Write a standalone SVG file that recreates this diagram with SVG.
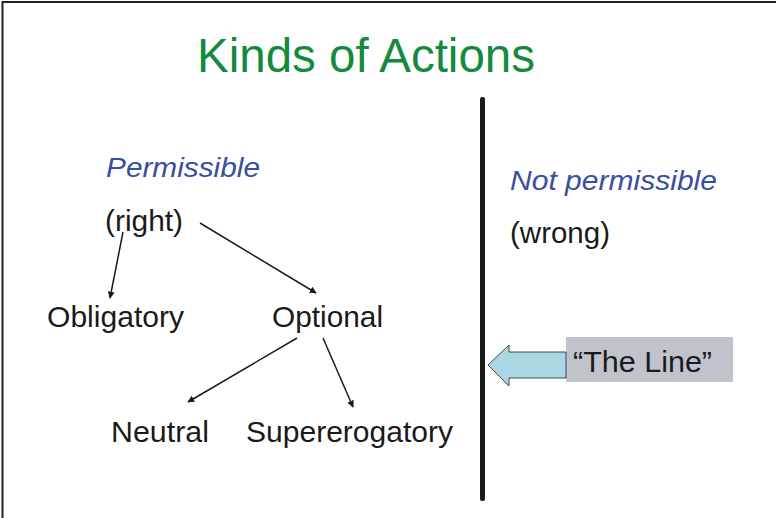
<svg xmlns="http://www.w3.org/2000/svg" width="776" height="518" viewBox="0 0 776 518">
<style>
text{font-family:"Liberation Sans",Arial,sans-serif;}
.lbl{font-size:29px;fill:#1a1a1a;}
.blue{font-size:28px;fill:#3a4ea0;font-style:italic;}
.conn{stroke:#1a1a1a;stroke-width:1.5;fill:none;marker-end:url(#ah);}
</style>
<defs>
<marker id="ah" viewBox="0 0 10 10" refX="9" refY="5" markerWidth="7" markerHeight="7" markerUnits="userSpaceOnUse" orient="auto">
<path d="M0,0 L10,5 L0,10 z" fill="#1a1a1a"/>
</marker>
</defs>
<rect x="0" y="0" width="776" height="518" fill="#ffffff"/>
<path d="M776,2 H2.5 V518" fill="none" stroke="#222" stroke-width="2"/>
<text x="197" y="72" font-size="48" fill="#138a3e" textLength="338" lengthAdjust="spacingAndGlyphs">Kinds of Actions</text>
<g id="permissible"><text class="blue" x="106" y="177" textLength="154" lengthAdjust="spacingAndGlyphs">Permissible</text></g>
<g id="right"><text class="lbl" x="105" y="231" textLength="78" lengthAdjust="spacingAndGlyphs">(right)</text></g>
<g id="obligatory"><text class="lbl" x="47" y="327" textLength="137" lengthAdjust="spacingAndGlyphs">Obligatory</text></g>
<g id="optional"><text class="lbl" x="272" y="327" textLength="111" lengthAdjust="spacingAndGlyphs">Optional</text></g>
<g id="neutral"><text class="lbl" x="111" y="442" textLength="98" lengthAdjust="spacingAndGlyphs">Neutral</text></g>
<g id="supererogatory"><text class="lbl" x="246" y="442" textLength="207" lengthAdjust="spacingAndGlyphs">Supererogatory</text></g>
<g id="not-permissible"><text class="blue" x="510" y="190" textLength="207" lengthAdjust="spacingAndGlyphs">Not permissible</text></g>
<g id="wrong"><text class="lbl" x="510" y="243" textLength="100" lengthAdjust="spacingAndGlyphs">(wrong)</text></g>
<g id="the-line">
<rect x="480" y="97" width="5" height="404" rx="2" fill="#1a1a1a"/>
</g>
<g id="line-label">
<rect x="566" y="337" width="167" height="45" fill="#bfc3cb"/>
<path d="M488,365 L509,345 L509,352 L566,352 L566,378 L509,378 L509,386 Z" fill="#aad7e4" stroke="#444" stroke-width="1"/>
<text class="lbl" x="573" y="372" textLength="139" lengthAdjust="spacingAndGlyphs">“The Line”</text>
</g>
<g id="connectors">
<line class="conn" x1="123" y1="232" x2="110" y2="298"/>
<line class="conn" x1="200" y1="223" x2="316" y2="293"/>
<line class="conn" x1="297" y1="338" x2="188" y2="402"/>
<line class="conn" x1="323" y1="338" x2="353" y2="407"/>
</g>
</svg>
